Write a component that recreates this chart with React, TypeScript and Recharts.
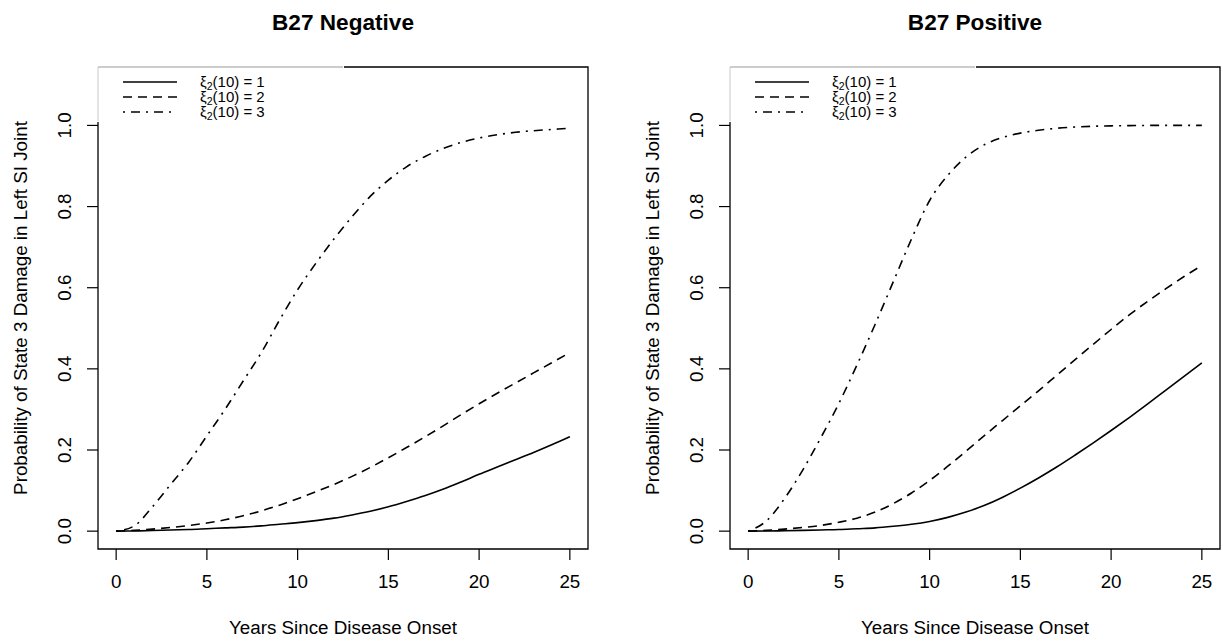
import React from 'react';
import { LineChart, Line, XAxis, YAxis, ReferenceArea } from 'recharts';

const FONT = '"Liberation Sans", Arial, Helvetica, sans-serif';

const years = [0, 1, 2, 3, 4, 5, 6, 7, 8, 9, 10, 11, 12, 13, 14, 15, 16, 17, 18, 19, 20, 21, 22, 23, 24, 25];

// B27 Negative
const negLevel1 = [0, 0.0005, 0.0015, 0.003, 0.004, 0.006, 0.008, 0.010, 0.013, 0.017, 0.021, 0.026, 0.032, 0.040, 0.049, 0.060, 0.073, 0.087, 0.103, 0.121, 0.140, 0.158, 0.176, 0.194, 0.213, 0.233];
const negLevel2 = [0, 0.002, 0.005, 0.009, 0.014, 0.020, 0.028, 0.038, 0.050, 0.064, 0.080, 0.097, 0.115, 0.135, 0.157, 0.181, 0.206, 0.232, 0.259, 0.287, 0.314, 0.340, 0.365, 0.390, 0.415, 0.440];
const negLevel3 = [0, 0.013, 0.06, 0.115, 0.17, 0.235, 0.30, 0.37, 0.44, 0.52, 0.595, 0.66, 0.72, 0.775, 0.825, 0.865, 0.898, 0.923, 0.943, 0.958, 0.969, 0.977, 0.983, 0.987, 0.99, 0.993];

// B27 Positive
const posLevel1 = [0, 0.0005, 0.001, 0.002, 0.003, 0.004, 0.006, 0.008, 0.012, 0.017, 0.024, 0.034, 0.047, 0.063, 0.083, 0.106, 0.131, 0.158, 0.187, 0.217, 0.248, 0.280, 0.313, 0.347, 0.381, 0.415];
const posLevel2 = [0, 0.002, 0.005, 0.009, 0.014, 0.022, 0.032, 0.047, 0.068, 0.094, 0.125, 0.160, 0.197, 0.235, 0.272, 0.309, 0.346, 0.384, 0.422, 0.460, 0.497, 0.533, 0.566, 0.597, 0.627, 0.655];
const posLevel3 = [0, 0.025, 0.08, 0.15, 0.23, 0.315, 0.41, 0.51, 0.615, 0.72, 0.815, 0.877, 0.922, 0.952, 0.97, 0.981, 0.988, 0.993, 0.996, 0.998, 0.999, 0.9995, 1.0, 1.0, 1.0, 1.0];

const xTicks = [0, 5, 10, 15, 20, 25];
const yTicks = [0, 0.2, 0.4, 0.6, 0.8, 1.0];
const xDomain = [-1, 26];
const yDomain = [-0.044, 1.144];

const panelTitles = ['B27 Negative', 'B27 Positive'];
const xTitle = 'Years Since Disease Onset';
const yTitle = 'Probability of State 3 Damage in Left SI Joint';
const legendLevels = ['1', '2', '3'];
const seriesDash = [undefined, '9 6', '2 6 9 6'];

const buildData = (a: number[], b: number[], c: number[]) =>
  years.map((t, i) => ({ t, s1: a[i], s2: b[i], s3: c[i] }));

const negData = buildData(negLevel1, negLevel2, negLevel3);
const posData = buildData(posLevel1, posLevel2, posLevel3);

const XTick = (p: any) => (
  <text x={p.x} y={p.y + 27.5} textAnchor="middle" fontSize={18.8} fontFamily={FONT} fill="#000">
    {p.payload.value}
  </text>
);

const YTick = (p: any) => (
  <text
    transform={`translate(${p.x - 23},${p.y}) rotate(-90)`}
    x={0}
    y={6.7}
    textAnchor="middle"
    fontSize={18.8}
    fontFamily={FONT}
    fill="#000"
  >
    {Number(p.payload.value).toFixed(1)}
  </text>
);

const CHART_H = 643;
const TOP = 67;
const X_AXIS_H = 94;

type PanelProps = { data: any[]; left: number; width: number; yAxisWidth: number; rightMargin: number };

const Panel = ({ data, left, width, yAxisWidth, rightMargin }: PanelProps) => (
  <div style={{ position: 'absolute', left, top: 0, width, height: CHART_H }}>
    <LineChart width={width} height={CHART_H} data={data} margin={{ top: TOP, right: rightMargin, bottom: 0, left: 0 }}>
      <XAxis
        dataKey="t"
        type="number"
        domain={xDomain}
        ticks={xTicks}
        allowDataOverflow
        height={X_AXIS_H}
        axisLine={false}
        tickLine={{ stroke: '#000', strokeWidth: 1.2 }}
        tickSize={11}
        tickMargin={0}
        tick={<XTick />}
      />
      <YAxis
        type="number"
        domain={yDomain}
        ticks={yTicks}
        allowDataOverflow
        width={yAxisWidth}
        axisLine={false}
        tickLine={{ stroke: '#000', strokeWidth: 1.2 }}
        tickSize={11}
        tickMargin={0}
        tick={<YTick />}
      />
      <ReferenceArea
        x1={xDomain[0]}
        x2={xDomain[1]}
        y1={yDomain[0]}
        y2={yDomain[1]}
        fill="none"
        fillOpacity={0}
        stroke="#000"
        strokeWidth={1.3}
        ifOverflow="visible"
      />
      {['s1', 's2', 's3'].map((k, i) => (
        <Line
          key={k}
          dataKey={k}
          type="monotone"
          stroke="#000"
          strokeWidth={1.6}
          strokeDasharray={seriesDash[i]}
          dot={false}
          activeDot={false}
          isAnimationActive={false}
        />
      ))}
    </LineChart>
  </div>
);

const boxLefts = [98, 730];
const BOX_W = 490;
const BOX_BOTTOM = 549;

const Overlay = () => (
  <svg width={1223} height={643} style={{ position: 'absolute', left: 0, top: 0, pointerEvents: 'none' }}>
    {boxLefts.map((bl, pi) => {
      const cx = bl + BOX_W / 2;
      const cy = (TOP + BOX_BOTTOM) / 2;
      const yCenterX = bl - 78;
      return (
        <g key={pi} fontFamily={FONT} fill="#000">
          <text x={cx} y={29.8} textAnchor="middle" fontSize={22.6} fontWeight="bold">
            {panelTitles[pi]}
          </text>
          <text x={cx} y={634} textAnchor="middle" fontSize={18.8}>
            {xTitle}
          </text>
          <text transform={`translate(${yCenterX},${cy}) rotate(-90)`} x={0} y={6.8} textAnchor="middle" fontSize={18.8}>
            {yTitle}
          </text>
          {/* legend */}
          <rect x={bl - 1} y={TOP - 1} width={247} height={56} fill="#fff" />
          <line x1={bl} x2={bl + 245} y1={TOP} y2={TOP} stroke="#999" strokeWidth={1} />
          <line x1={bl} x2={bl} y1={TOP} y2={TOP + 54} stroke="#c8c8c8" strokeWidth={1} />
          {legendLevels.map((lv, i) => {
            const ly = 82 + i * 15;
            return (
              <g key={lv}>
                <line x1={bl + 25} x2={bl + 79} y1={ly} y2={ly} stroke="#000" strokeWidth={1.6} strokeDasharray={seriesDash[i]} />
                <text x={bl + 102} y={ly + 5.2} fontSize={15}>
                  ξ
                  <tspan fontSize={10.5} dy={2.5}>2</tspan>
                  <tspan dy={-2.5}>(10) = {lv}</tspan>
                </text>
              </g>
            );
          })}
        </g>
      );
    })}
  </svg>
);

export default function App() {
  return (
    <div style={{ position: 'absolute', left: 0, top: 0, width: 1223, height: 643, background: '#fff', overflow: 'hidden' }}>
      <Panel data={negData} left={0} width={611} yAxisWidth={98} rightMargin={23} />
      <Panel data={posData} left={611} width={612} yAxisWidth={119} rightMargin={3} />
      <Overlay />
    </div>
  );
}
